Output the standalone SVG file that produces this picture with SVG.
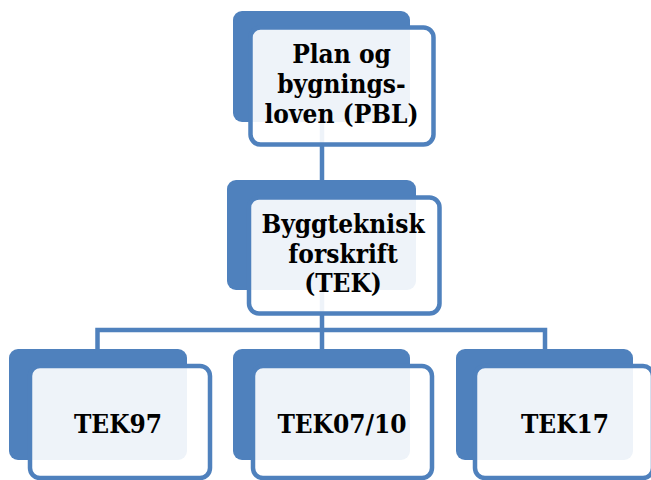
<svg xmlns="http://www.w3.org/2000/svg" width="651" height="480" viewBox="0 0 651 480">
<style>
.back{fill:#4f81bd}
.front{fill:#ffffff;fill-opacity:0.9;stroke:#4f81bd;stroke-width:4.5}
.conn{fill:none;stroke:#4f81bd;stroke-width:4.5}
text{font-family:"DejaVu Serif Condensed","DejaVu Serif",serif;font-stretch:condensed;font-weight:bold;font-size:26px;fill:#000;text-anchor:middle}
</style>
<rect width="651" height="480" fill="#ffffff"/>
<g id="connectors">
<path class="conn" d="M322 122V180"/>
<path class="conn" d="M322 290V330M97.5 349V330H545V349M322 330V349"/>
</g>
<g id="pbl">
<rect class="back" x="233" y="11" width="177" height="111" rx="9"/>
<rect class="front" x="250.5" y="27.5" width="183" height="117" rx="10"/>
<text x="341.5" y="63">Plan og</text>
<text x="341.5" y="93">bygnings-</text>
<text x="341.5" y="123">loven (PBL)</text>
</g>
<g id="tek">
<rect class="back" x="227" y="180" width="189" height="110" rx="9"/>
<rect class="front" x="249" y="197.5" width="190.5" height="116" rx="10"/>
<text x="343" y="233">Byggteknisk</text>
<text x="343" y="262.5">forskrift</text>
<text x="343" y="292">(TEK)</text>
</g>
<g id="tek97">
<rect class="back" x="9" y="349" width="178" height="111" rx="9"/>
<rect class="front" x="30" y="366" width="180" height="112" rx="10"/>
<text x="118" y="433">TEK97</text>
</g>
<g id="tek0710">
<rect class="back" x="233" y="349" width="177" height="111" rx="9"/>
<rect class="front" x="253" y="366" width="179" height="112" rx="10"/>
<text x="342" y="433">TEK07/10</text>
</g>
<g id="tek17">
<rect class="back" x="456" y="349" width="177" height="111" rx="9"/>
<rect class="front" x="475" y="366" width="178" height="112" rx="10"/>
<text x="565" y="433">TEK17</text>
</g>
</svg>
